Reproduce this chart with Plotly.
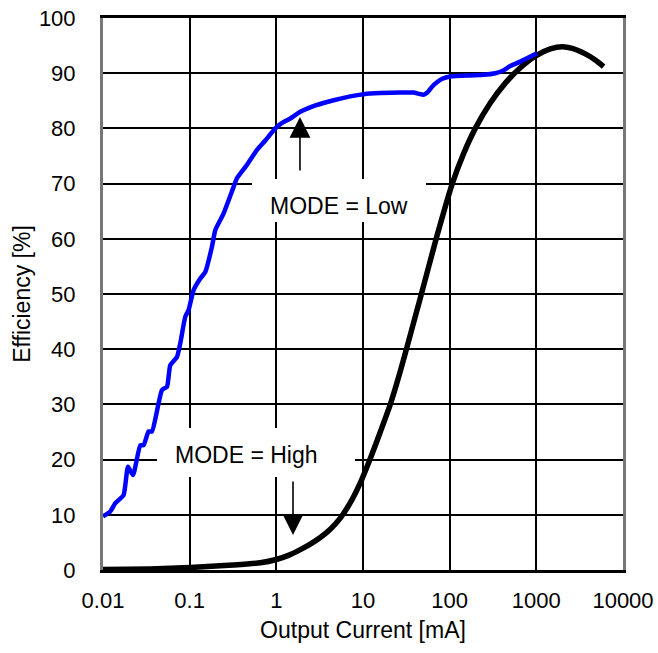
import plotly.graph_objects as go

# Efficiency vs output current, MODE = Low (blue)
low_current = [0.01, 0.01214, 0.01387, 0.01729, 0.01943, 0.02219, 0.02694, 0.02941,
               0.03359, 0.03676, 0.04794, 0.05474, 0.05976, 0.07142, 0.07797, 0.08905,
               0.0972, 0.111, 0.1326, 0.1515, 0.181, 0.1976, 0.2464, 0.3213, 0.3517,
               0.4586, 0.5984, 0.746, 0.973, 1.141, 1.449, 1.89, 2.89, 4.58, 7.13,
               10.2, 15.83, 26.9, 38.4, 43.4, 50.0, 55.2, 63.0, 72.0, 82.2, 101.6,
               173, 246, 336, 416, 500, 653, 1018]
low_eff = [9.7, 10.6, 12.1, 13.6, 18.7, 17.2, 22.6, 22.6,
           25.1, 25.1, 32.6, 33.2, 37.1, 38.6, 41.1, 45.9,
           47.1, 50.7, 52.8, 54.0, 58.6, 61.6, 64.6, 69.4, 71.0,
           73.4, 76.1, 77.8, 80.0, 80.9, 81.8, 83.0, 84.2, 85.1, 85.8,
           86.2, 86.4, 86.5, 86.5, 86.3, 86.1, 86.5, 87.6, 88.4, 89.0, 89.4,
           89.6, 89.7, 90.0, 90.5, 91.3, 92.1, 93.6]

# Efficiency vs output current, MODE = High (black)
high_current = [0.01, 0.0351, 0.1017, 0.3187, 0.653, 1.0, 1.4, 1.89, 2.465, 3.216, 4.194,
                5.47, 7.135, 9.307, 12.14, 15.83, 20.65, 26.94, 35.13, 46.43, 71.0,
                107.2, 143.6, 197.6, 294.2, 438.3, 652.9, 972.6, 1449, 1993, 2600,
                3672, 4789, 5973]
high_eff = [0.1, 0.2, 0.45, 0.9, 1.3, 1.9, 2.7, 3.7, 4.7, 5.9, 7.4,
            9.4, 12.2, 15.8, 20.2, 25.0, 30.0, 36.0, 42.6, 49.6, 60.4,
            70.0, 75.3, 80.0, 84.6, 88.2, 91.0, 93.1, 94.4, 94.8, 94.5,
            93.5, 92.4, 91.2]

x_ticks = [0.01, 0.1, 1, 10, 100, 1000, 10000]
x_tick_text = ["0.01", "0.1", "1", "10", "100", "1000", "10000"]
y_ticks = list(range(0, 101, 10))

FONT = "Liberation Sans, Arial, sans-serif"

fig = go.Figure()
fig.add_trace(go.Scatter(x=high_current, y=high_eff, mode="lines",
                         line=dict(color="black", width=5.5, shape="spline", smoothing=0.6),
                         showlegend=False))
fig.add_trace(go.Scatter(x=low_current, y=low_eff, mode="lines",
                         line=dict(color="#0000ff", width=4.5, shape="spline", smoothing=0.5),
                         showlegend=False))

# White boxes behind the labels, masking the grid
fig.add_shape(type="rect", xref="paper", yref="paper", layer="above",
              x0=0.2865, x1=0.6212, y0=0.6304, y1=0.7083,
              fillcolor="white", line=dict(width=0))
fig.add_shape(type="rect", xref="paper", yref="paper", layer="above",
              x0=0.1038, x1=0.4846, y0=0.1685, y1=0.2572,
              fillcolor="white", line=dict(width=0))

fig.add_annotation(x=0.4529, y=0.6594, xref="paper", yref="paper", text="MODE = Low",
                   showarrow=False, xanchor="center", yanchor="middle",
                   font=dict(family=FONT, size=23, color="black"))
fig.add_annotation(x=0.2769, y=0.2083, xref="paper", yref="paper", text="MODE = High",
                   showarrow=False, xanchor="center", yanchor="middle",
                   font=dict(family=FONT, size=23, color="black"))

# Arrows pointing from each label to its curve
fig.add_annotation(x=0.3788, y=0.8207, xref="paper", yref="paper", ax=0, ay=55, text="",
                   showarrow=True, arrowhead=2, arrowsize=2.6, arrowwidth=1.6,
                   arrowcolor="black")
fig.add_annotation(x=0.3654, y=0.0634, xref="paper", yref="paper", ax=0, ay=-55, text="",
                   showarrow=True, arrowhead=2, arrowsize=2.6, arrowwidth=1.6,
                   arrowcolor="black")

fig.update_xaxes(type="log", range=[-2, 4], tickvals=x_ticks, ticktext=x_tick_text,
                 showgrid=True, gridcolor="black", gridwidth=1.5,
                 showline=True, linecolor="black", linewidth=3, mirror=True,
                 ticks="", ticklabelstandoff=9, automargin=False,
                 tickfont=dict(family=FONT, size=22, color="black"),
                 title=dict(text="Output Current [mA]", standoff=10,
                            font=dict(family=FONT, size=23, color="black")),
                 zeroline=False)
fig.update_yaxes(range=[0, 100], tickvals=y_ticks,
                 showgrid=True, gridcolor="black", gridwidth=1.5,
                 showline=True, linecolor="#777777", linewidth=3, mirror=True,
                 ticks="", ticklabelstandoff=20, automargin=False,
                 tickfont=dict(family=FONT, size=22, color="black"),
                 title=dict(text="Efficiency [%]", standoff=2,
                            font=dict(family=FONT, size=23, color="black")),
                 zeroline=False)

fig.update_layout(width=658, height=653,
                  margin=dict(l=103, r=35, t=18, b=83),
                  paper_bgcolor="white", plot_bgcolor="white")

fig.write_html("out.html")
